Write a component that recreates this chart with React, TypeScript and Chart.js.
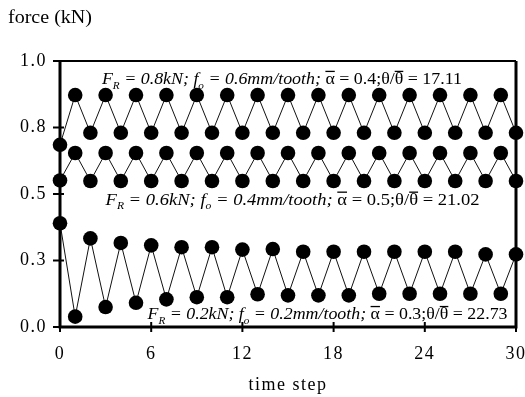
import React, { useEffect, useRef } from "react";
import { Chart, registerables } from "chart.js";

Chart.register(...registerables);

const timeSteps = [0, 1, 2, 3, 4, 5, 6, 7, 8, 9, 10, 11, 12, 13, 14, 15, 16, 17, 18, 19, 20, 21, 22, 23, 24, 25, 26, 27, 28, 29, 30];

// F_R = 0.8 kN
const force08 = [0.685, 0.872, 0.73, 0.872, 0.73, 0.872, 0.73, 0.872, 0.73, 0.872, 0.73, 0.872, 0.73, 0.872, 0.73, 0.872, 0.73, 0.872, 0.73, 0.872, 0.73, 0.872, 0.73, 0.872, 0.73, 0.872, 0.73, 0.872, 0.73, 0.872, 0.73];
// F_R = 0.6 kN
const force06 = [0.551, 0.654, 0.549, 0.654, 0.549, 0.654, 0.549, 0.654, 0.549, 0.654, 0.549, 0.654, 0.549, 0.654, 0.549, 0.654, 0.549, 0.654, 0.549, 0.654, 0.549, 0.654, 0.549, 0.654, 0.549, 0.654, 0.549, 0.654, 0.549, 0.654, 0.549];
// F_R = 0.2 kN
const force02 = [0.39, 0.039, 0.333, 0.075, 0.316, 0.091, 0.307, 0.104, 0.3, 0.112, 0.3, 0.112, 0.291, 0.123, 0.293, 0.119, 0.283, 0.119, 0.283, 0.119, 0.283, 0.125, 0.283, 0.125, 0.283, 0.125, 0.283, 0.125, 0.273, 0.125, 0.273];

const xTickStep = 6;
const yTickStep = 0.25;

const yAxisTitle = "force (kN)";
const xAxisTitle = "time step";

type Seg = { t: string; it?: boolean; sub?: boolean; bar?: boolean };

const label08: Seg[] = [
  { t: "F", it: true }, { t: "R", it: true, sub: true }, { t: " = 0.8kN; ", it: true },
  { t: "f", it: true }, { t: "o", it: true, sub: true }, { t: " = 0.6mm/tooth; ", it: true },
  { t: "α", bar: true }, { t: " = 0.4;θ/" }, { t: "θ", bar: true }, { t: " = 17.11" },
];
const label06: Seg[] = [
  { t: "F", it: true }, { t: "R", it: true, sub: true }, { t: " = 0.6kN; ", it: true },
  { t: "f", it: true }, { t: "o", it: true, sub: true }, { t: " = 0.4mm/tooth; ", it: true },
  { t: "α", bar: true }, { t: " = 0.5;θ/" }, { t: "θ", bar: true }, { t: " = 21.02" },
];
const label02: Seg[] = [
  { t: "F", it: true }, { t: "R", it: true, sub: true }, { t: " = 0.2kN; ", it: true },
  { t: "f", it: true }, { t: "o", it: true, sub: true }, { t: " = 0.2mm/tooth; ", it: true },
  { t: "α", bar: true }, { t: " = 0.3;θ/" }, { t: "θ", bar: true }, { t: " = 22.73" },
];

const SERIF = '"Liberation Serif", "Times New Roman", serif';

function drawRich(ctx: CanvasRenderingContext2D, segs: Seg[], cx: number, base: number, size: number, targetW: number) {
  const fontFor = (s: Seg) => `${s.it ? "italic " : ""}${s.sub ? Math.round(size * 0.6) : size}px ${SERIF}`;
  const widths = segs.map((s) => {
    ctx.font = fontFor(s);
    return ctx.measureText(s.t).width;
  });
  const total = widths.reduce((a, b) => a + b, 0);
  ctx.save();
  ctx.fillStyle = "#000";
  ctx.textBaseline = "alphabetic";
  ctx.textAlign = "left";
  ctx.translate(cx - targetW / 2, base);
  ctx.scale(targetW / total, 1);
  let x = 0;
  segs.forEach((s, i) => {
    ctx.font = fontFor(s);
    ctx.fillText(s.t, x, s.sub ? size * 0.3 : 0);
    if (s.bar) ctx.fillRect(x, -size * 0.82, widths[i], 1.3);
    x += widths[i];
  });
  ctx.restore();
}

const framePlugin = {
  id: "frame",
  beforeDraw(chart: any) {
    (chart.ctx as any).letterSpacing = "1.5px";
  },
  beforeDatasetsDraw(chart: any) {
    const { ctx, chartArea: a, scales } = chart;
    ctx.save();
    ctx.strokeStyle = "#000";
    ctx.lineCap = "butt";
    ctx.lineWidth = 3;
    ctx.beginPath();
    ctx.moveTo(a.left, a.top);
    ctx.lineTo(a.left, a.bottom);
    ctx.lineTo(a.right, a.bottom);
    ctx.lineTo(a.right, a.top);
    ctx.stroke();
    ctx.lineWidth = 2;
    ctx.beginPath();
    ctx.moveTo(a.left, a.top);
    ctx.lineTo(a.right, a.top);
    ctx.stroke();
    ctx.lineWidth = 2;
    scales.x.ticks.forEach((t: any) => {
      const px = scales.x.getPixelForValue(t.value);
      ctx.beginPath();
      ctx.moveTo(px, a.bottom - 5);
      ctx.lineTo(px, a.bottom + 5);
      ctx.stroke();
    });
    scales.y.ticks.forEach((t: any) => {
      const py = scales.y.getPixelForValue(t.value);
      ctx.beginPath();
      ctx.moveTo(a.left - 7, py);
      ctx.lineTo(a.left + 4, py);
      ctx.stroke();
    });
    ctx.restore();
  },
  afterDraw(chart: any) {
    const { ctx, scales } = chart;
    (ctx as any).letterSpacing = "0px";
    const x = scales.x;
    const y = scales.y;
    ctx.save();
    ctx.fillStyle = "#000";
    ctx.font = `18px ${SERIF}`;
    ctx.textBaseline = "alphabetic";
    ctx.textAlign = "left";
    const w = ctx.measureText(yAxisTitle).width;
    ctx.translate(8, 23);
    ctx.scale(84 / w, 1);
    ctx.fillText(yAxisTitle, 0, 0);
    ctx.restore();
    drawRich(ctx, label08, x.getPixelForValue(14.6), y.getPixelForValue(0.914), 16, 360);
    drawRich(ctx, label06, x.getPixelForValue(15.3), y.getPixelForValue(0.46), 16, 374);
    drawRich(ctx, label02, x.getPixelForValue(17.6), y.getPixelForValue(0.03), 16, 360);
  },
};

export default function App() {
  const ref = useRef<HTMLCanvasElement>(null);
  useEffect(() => {
    document.body.style.margin = "0";
    const mk = (data: number[]) => ({
      data: timeSteps.map((t, i) => ({ x: t, y: data[i] })),
      borderColor: "#111",
      borderWidth: 1,
      pointStyle: "circle" as const,
      pointRadius: 7.3,
      pointHoverRadius: 7.3,
      pointBackgroundColor: "#000",
      pointBorderWidth: 0,
      clip: false as any,
      tension: 0,
    });
    const chart = new Chart(ref.current!, {
      type: "line",
      data: { datasets: [mk(force08), mk(force06), mk(force02)] },
      options: {
        animation: false,
        responsive: false,
        devicePixelRatio: 1,
        events: [],
        layout: { padding: { left: 0, right: 9, top: 61, bottom: 0 } },
        plugins: { legend: { display: false }, tooltip: { enabled: false }, title: { display: false } },
        scales: {
          x: {
            type: "linear",
            min: 0,
            max: 30,
            grid: { display: false, drawTicks: false },
            border: { display: false },
            ticks: { stepSize: xTickStep, color: "#000", font: { family: SERIF, size: 18 }, padding: 16, maxRotation: 0 },
            title: { display: true, text: xAxisTitle, color: "#000", font: { family: SERIF, size: 18 }, padding: { top: 0, bottom: 1 } },
            afterFit(s: any) {
              s.height = 70;
              s.paddingLeft = 0;
              s.paddingRight = 0;
            },
          },
          y: {
            type: "linear",
            min: 0,
            max: 1,
            grid: { display: false, drawTicks: false },
            border: { display: false },
            ticks: {
              stepSize: yTickStep,
              color: "#000",
              font: { family: SERIF, size: 18 },
              padding: 13,
              callback: (v: any) => Number(v).toFixed(1),
            },
            afterFit(s: any) {
              s.width = 60;
              s.paddingTop = 0;
              s.paddingBottom = 0;
            },
          },
        },
      },
      plugins: [framePlugin],
    });
    return () => chart.destroy();
  }, []);
  return (
    <div style={{ position: "absolute", left: 0, top: 0, width: 525, height: 397, background: "#fff" }}>
      <canvas ref={ref} width={525} height={397} />
    </div>
  );
}
